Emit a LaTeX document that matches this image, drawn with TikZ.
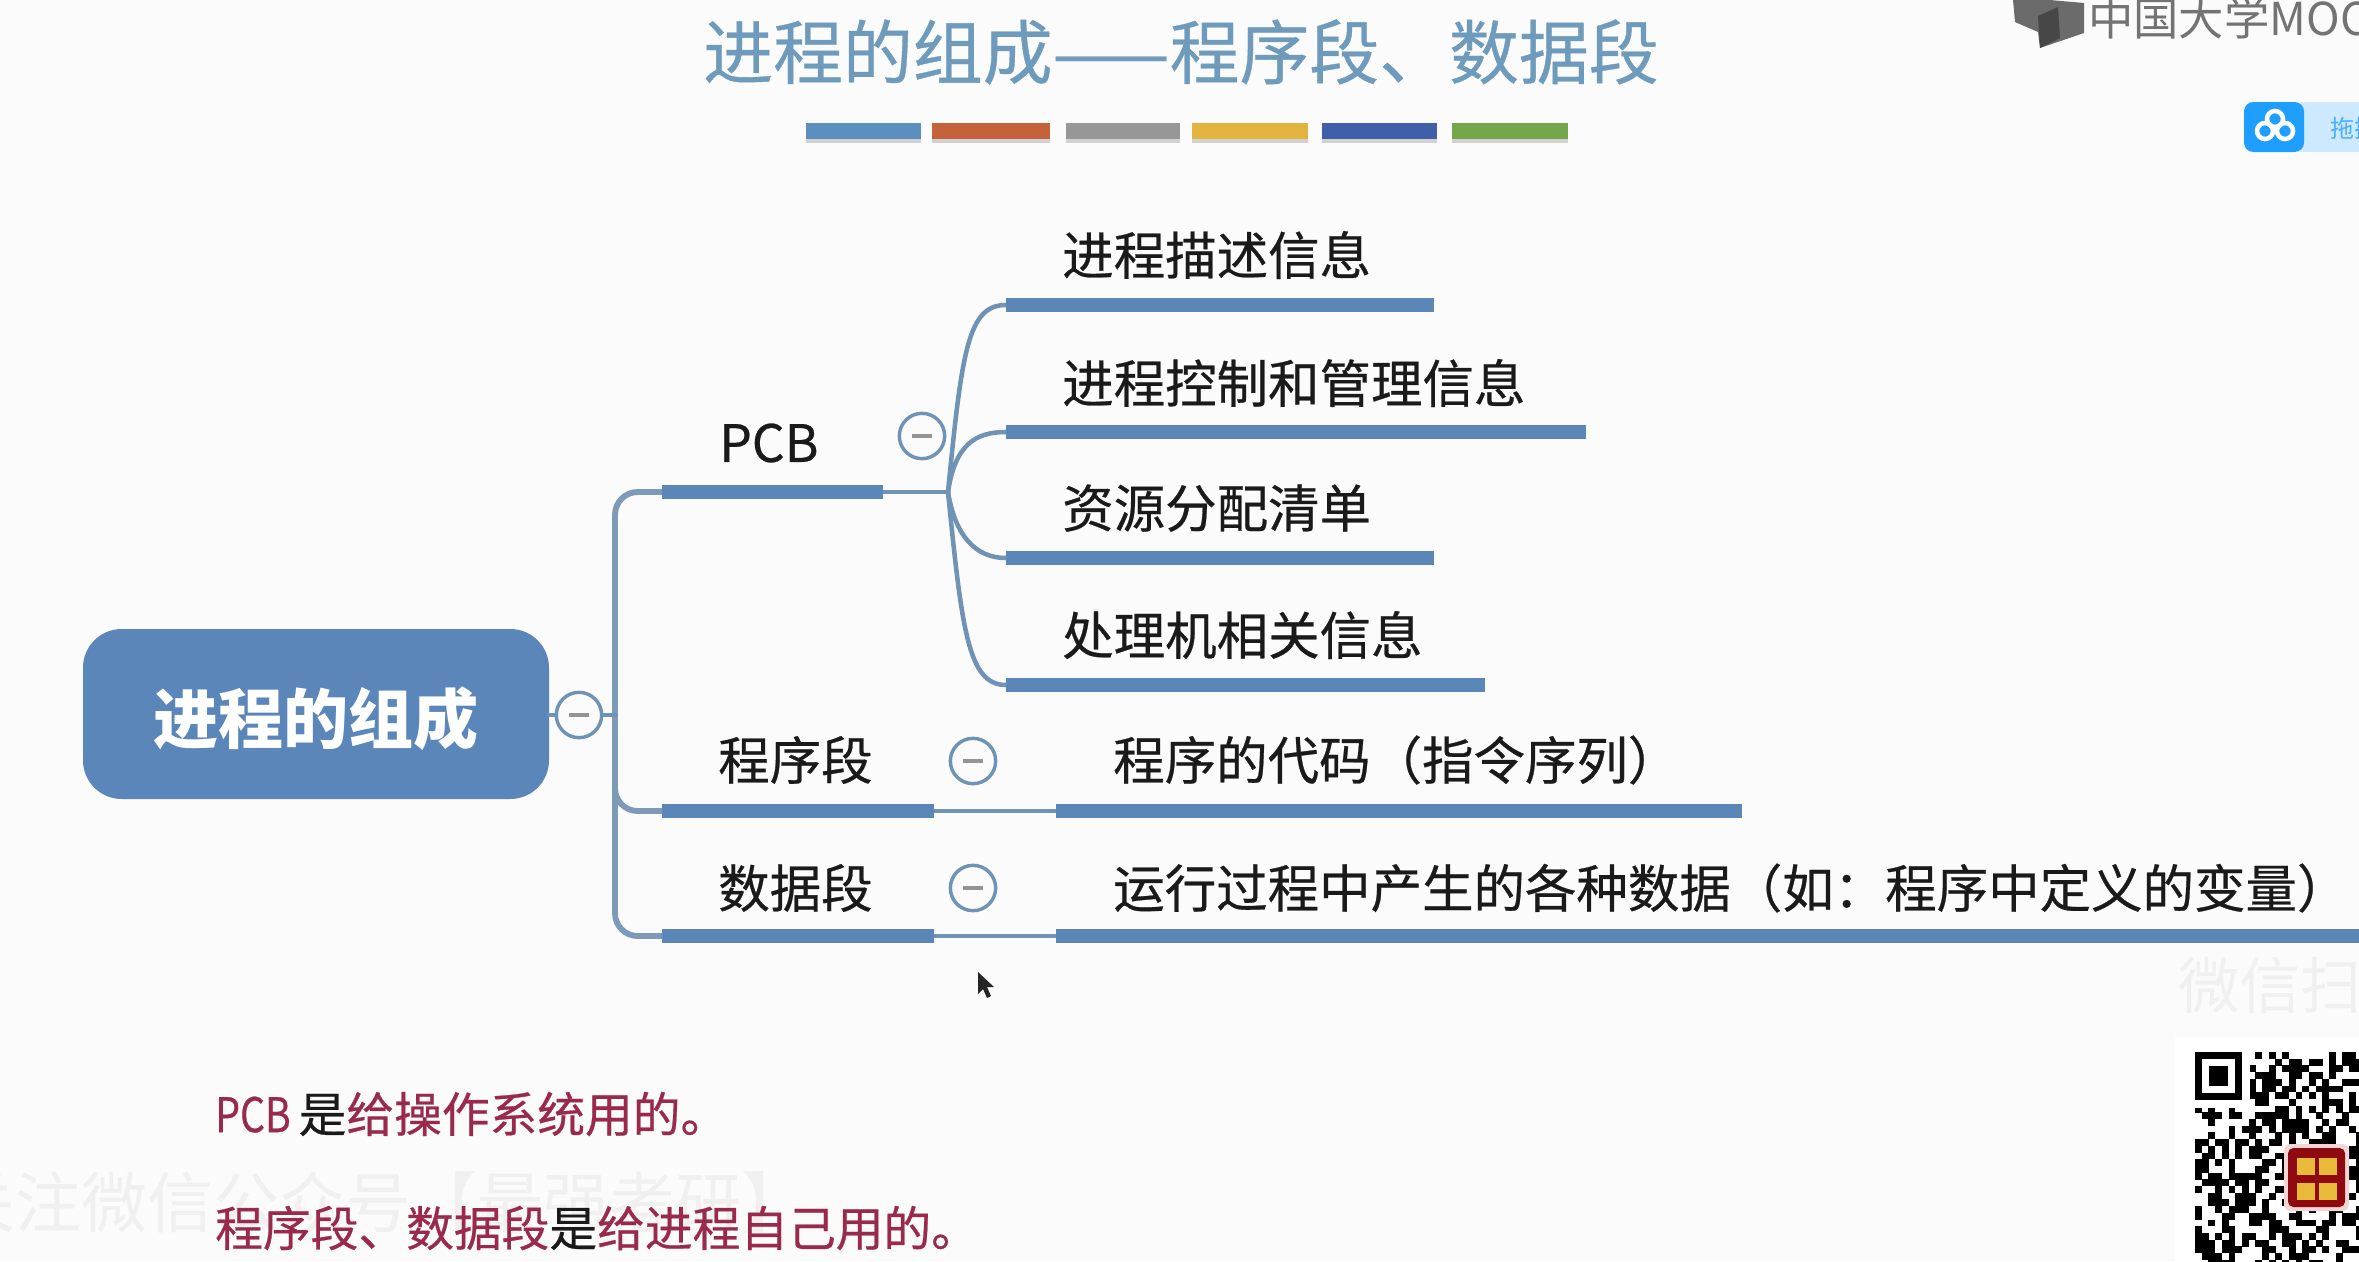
\documentclass[tikz,border=0pt]{standalone}
\usepackage{graphicx}
\usepackage{fontspec}
\setmainfont{Noto Sans CJK SC}
\newfontfamily\medcjk[FakeBold=0.5]{Noto Sans CJK SC}
\definecolor{bgc}{HTML}{FBFBFB}
\definecolor{barc}{HTML}{5B87B8}
\definecolor{linec}{HTML}{6F93B5}
\definecolor{trunkc}{HTML}{7D9AB8}
\definecolor{rootc}{HTML}{5A86BA}
\definecolor{titlec}{HTML}{6E9BBC}
\definecolor{noterc}{HTML}{9A2A4C}
\definecolor{txtc}{HTML}{1A1A1A}
\definecolor{btnblue}{HTML}{1E9FFF}
\definecolor{btnlight}{HTML}{CCE9FF}
\definecolor{btntext}{HTML}{4AAEFF}
\definecolor{logoedge}{HTML}{F4D6D6}
\definecolor{logored}{HTML}{8E0A10}
\definecolor{logoyel}{HTML}{E9B93A}
\tikzset{
  x=0.75pt,y=-0.75pt,
  barline/.style={line width=10.5pt,draw=barc},
  thinline/.style={line width=3.4pt,draw=linec,line cap=round},
  trunkline/.style={line width=4.4pt,draw=trunkc,rounded corners=17pt},
  collapsec/.style={circle,draw=linec,line width=2.6pt,fill=bgc,minimum size=34pt,inner sep=0pt,
    path picture={\draw[line width=2.4pt,draw=black!42] ([xshift=-7.5pt]path picture bounding box.center) -- ([xshift=7.5pt]path picture bounding box.center);}},
  lvlone/.style={anchor=west,inner sep=0pt,font=\medcjk\fontsize{38.6}{39}\selectfont,text=txtc},
  lvltwo/.style={anchor=west,inner sep=0pt,font=\medcjk\fontsize{38.6}{39}\selectfont,text=txtc},
  notetext/.style={anchor=west,inner sep=0pt,font=\medcjk\fontsize{35.8}{36}\selectfont,text=noterc},
  wmark/.style={anchor=west,inner sep=0pt,text=black!6},
}
\begin{document}
\begin{tikzpicture}
\useasboundingbox (0,0) rectangle (2359,1261);
\fill[bgc] (0,0) rectangle (2359,1261);
\begin{scope}
\clip (0,0) rectangle (2359,1261);

% faint watermarks
\node[wmark,font=\fontsize{49.5}{50}\selectfont] (wmA) at (-51,1202) {关注微信公众号【最强考研】};
\node[wmark,font=\fontsize{46}{46}\selectfont] (wmB) at (2178,985) {微信扫一扫};

% title
\node[inner sep=0pt,font=\medcjk\fontsize{52.4}{53}\selectfont,text=titlec,anchor=center] (title) at (1181,52) {进程的组成——程序段、数据段};
\foreach \xa/\xb/\c in {806/921/5B8FC0,932/1050/C5623A,1066/1180/979797,1192/1308/E2B33F,1322/1437/3F5FA8,1452/1568/72A84A}{
  \definecolor{tmpc}{HTML}{\c}
  \fill[black!18] (\xa,127) rectangle (\xb,143);
  \fill[tmpc] (\xa,123) rectangle (\xb,139);
}

% MOOC logo
\fill[black!58] (2013,0) -- (2015,22) -- (2038,32) -- (2040,48) -- (2084,33) -- (2084,3) -- (2050,0) -- cycle;
\fill[black!72] (2038,16) -- (2058,7) -- (2060,38) -- (2040,48) -- cycle;
\node[anchor=west,inner sep=0pt,font=\fontsize{34}{34}\selectfont,text=black!55] (mooc) at (2088,18) {中国大学MOOC};

% upload button
\fill[btnlight] (2300,102) rectangle (2359,152);
\fill[btnblue,rounded corners=7pt] (2244,102) rectangle (2304,152);
\foreach \px/\py in {2275/119,2265/131,2285/131}{
  \draw[white,line width=3.4pt] (\px,\py) circle (6pt);
}
\node[anchor=west,inner sep=0pt,font=\fontsize{18}{18}\selectfont,text=btntext] (btn) at (2330,128) {拖拽};

% named points
\coordinate (hub) at (948,492);
\coordinate (barA) at (1006,305);
\coordinate (barB) at (1006,432);
\coordinate (barC) at (1006,558);
\coordinate (barD) at (1006,685);
\coordinate (pcbL) at (662,492);
\coordinate (pcbR) at (883,492);
\coordinate (progL) at (662,811);
\coordinate (progR) at (934,811);
\coordinate (dataL) at (662,936);
\coordinate (dataR) at (934,936);
\coordinate (codeL) at (1056,811);
\coordinate (varsL) at (1056,936);
\coordinate (tkA) at (615,492);
\coordinate (tkB) at (615,936);
\coordinate (tkM) at (615,760);

% root
\node[fill=rootc,rounded corners=29pt,minimum width=349.5pt,minimum height=127.5pt,inner sep=0pt,
      font=\bfseries\fontsize{48.8}{49}\selectfont,text=white] (root) at (316,714) {\raisebox{-3.4pt}[\height][\depth]{进程的组成}};

% trunk
\draw[trunkline] (pcbL) -- (tkA) -- (tkB) -- (dataL);
\draw[trunkline] (tkM) |- (progL);
\node[collapsec] (cRoot) at (579,715) {};
\draw[thinline] (root.east |- cRoot) -- (cRoot.west);
\draw[thinline] (cRoot.east) -- (cRoot.east -| tkA);

% thin links
\draw[thinline] (pcbR) -- (hub);
\draw[thinline] (progR) -- (codeL);
\draw[thinline] (dataR) -- (varsL);
\draw[thinline] (hub) .. controls (962,350) and (968,305) .. (barA);
\draw[thinline] (hub) .. controls (955,445) and (975,432) .. (barB);
\draw[thinline] (hub) .. controls (955,535) and (975,558) .. (barC);
\draw[thinline] (hub) .. controls (962,630) and (968,685) .. (barD);

% thick bars
\draw[barline] (pcbL) -- (pcbR);
\draw[barline] (progL) -- (progR);
\draw[barline] (dataL) -- (dataR);
\draw[barline] (barA) -- +(428,0);
\draw[barline] (barB) -- +(580,0);
\draw[barline] (barC) -- +(428,0);
\draw[barline] (barD) -- +(479,0);
\draw[barline] (codeL) -- +(686,0);
\draw[barline] (varsL) -- +(1303,0);

% collapse buttons
\node[collapsec] (cPcb) at (922,436) {};
\node[collapsec] (cProg) at (973,761) {};
\node[collapsec] (cData) at (973,888) {};

% labels
\node[lvlone] (lPcb) at (719,443) {PCB};
\node[lvlone] (lProg) at (718,760) {程序段};
\node[lvlone] (lData) at (718,888) {数据段};
\node[lvltwo] (iA) at (1062,255) {进程描述信息};
\node[lvltwo] (iB) at (1062,383) {进程控制和管理信息};
\node[lvltwo] (iC) at (1062,508) {资源分配清单};
\node[lvltwo] (iD) at (1062,635) {处理机相关信息};
\node[lvltwo] (iE) at (1113,760) {程序的代码（指令序列）};
\node[lvltwo] (iF) at (1113,888) {运行过程中产生的各种数据（如：程序中定义的变量）};

% cursor
\fill[black!85] (978,972) -- (978,994) -- (983,989) -- (987,998) -- (991,996) -- (987,987) -- (994,987) -- cycle;

% notes
\node[notetext] (nA) at (215,1114) {\scalebox{0.82}[1]{PCB}\,{\color{txtc}是}给操作系统用的。};
\node[notetext] (nB) at (215,1228) {程序段、数据段{\color{txtc}是}给进程自己用的。};

% QR panel
\fill[white] (2175,1037) rectangle (2359,1261);
\pgfmathsetseed{4711}
\foreach \i in {0,...,24}{
  \foreach \j in {0,...,31}{
    \pgfmathsetmacro{\rv}{rnd}
    \ifdim\rv pt<0.55pt
      \fill[black] ({2195+\i*6.7},{1052+\j*6.7}) rectangle ++(6.9,6.9);
    \fi
  }
}
\fill[white] (2191,1048) rectangle (2250,1108);
\fill[black] (2195,1052) rectangle (2242,1100);
\fill[white] (2202,1059) rectangle (2235,1093);
\fill[black] (2209,1066) rectangle (2228,1086);
\fill[logoedge,rounded corners=5pt] (2284,1144) rectangle (2349,1211);
\fill[logored,rounded corners=4pt] (2288,1148) rectangle (2345,1207);
\foreach \xa/\ya in {2297/1158,2319/1158,2297/1183,2319/1183}{
  \fill[logoyel] (\xa,\ya) rectangle ++(18,17);
}
\end{scope}
\end{tikzpicture}
\end{document}
